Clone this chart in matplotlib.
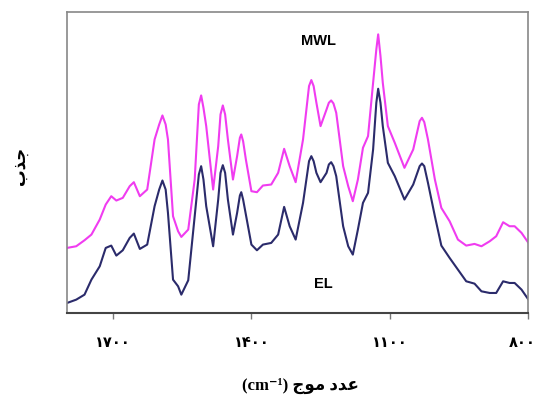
import matplotlib
matplotlib.use("Agg")
import matplotlib.pyplot as plt
import matplotlib.transforms as mtransforms

# wavenumber (cm-1)
wavenumber = [1800, 1780, 1762, 1747, 1729, 1716, 1704, 1693, 1679, 1664,
              1655, 1642, 1626, 1610, 1600, 1593, 1586, 1581, 1570, 1559,
              1552, 1537, 1523, 1514, 1509, 1504, 1498, 1483, 1472, 1467,
              1462, 1457, 1451, 1440, 1431, 1425, 1422, 1418, 1412, 1400,
              1388, 1375, 1357, 1342, 1329, 1317, 1304, 1288, 1275, 1270,
              1265, 1259, 1250, 1237, 1232, 1227, 1222, 1216, 1201, 1190,
              1180, 1169, 1158, 1147, 1136, 1129, 1125, 1120, 1115, 1104,
              1089, 1068, 1049, 1035, 1030, 1025, 1017, 1002, 988, 970,
              952, 934, 916, 901, 883, 869, 854, 840, 829, 814, 800]

# absorbance (arbitrary units)
mwl = [0.195, 0.200, 0.218, 0.235, 0.280, 0.325, 0.350, 0.337, 0.345, 0.380,
       0.392, 0.350, 0.370, 0.520, 0.565, 0.592, 0.565, 0.520, 0.290, 0.245,
       0.228, 0.250, 0.400, 0.625, 0.652, 0.615, 0.560, 0.370, 0.500, 0.595,
       0.622, 0.595, 0.520, 0.400, 0.470, 0.525, 0.535, 0.515, 0.460, 0.365,
       0.362, 0.382, 0.385, 0.420, 0.492, 0.440, 0.392, 0.520, 0.680, 0.698,
       0.680, 0.630, 0.560, 0.610, 0.630, 0.637, 0.628, 0.600, 0.440, 0.380,
       0.335, 0.400, 0.495, 0.530, 0.690, 0.790, 0.835, 0.770, 0.690, 0.560,
       0.510, 0.435, 0.490, 0.575, 0.585, 0.572, 0.520, 0.400, 0.315, 0.275,
       0.220, 0.202, 0.207, 0.200, 0.215, 0.230, 0.272, 0.260, 0.260, 0.240,
       0.212]

el = [0.030, 0.040, 0.055, 0.100, 0.140, 0.195, 0.202, 0.172, 0.188, 0.225,
      0.238, 0.192, 0.205, 0.320, 0.370, 0.397, 0.370, 0.300, 0.100, 0.080,
      0.055, 0.098, 0.290, 0.415, 0.440, 0.400, 0.320, 0.200, 0.340, 0.420,
      0.443, 0.420, 0.340, 0.235, 0.300, 0.352, 0.362, 0.340, 0.295, 0.205,
      0.188, 0.205, 0.210, 0.235, 0.318, 0.260, 0.220, 0.330, 0.455, 0.470,
      0.455, 0.420, 0.392, 0.420, 0.445, 0.452, 0.440, 0.410, 0.260, 0.200,
      0.175, 0.250, 0.330, 0.360, 0.490, 0.630, 0.672, 0.630, 0.560, 0.450,
      0.410, 0.340, 0.385, 0.440, 0.448, 0.440, 0.390, 0.290, 0.202, 0.165,
      0.130, 0.095, 0.088, 0.065, 0.060, 0.060, 0.095, 0.090, 0.090, 0.070,
      0.042]

tick_pos = [1700, 1400, 1100, 800]
tick_lab = ["۱۷۰۰", "۱۴۰۰", "۱۱۰۰", "۸۰۰"]

# arabic text in visual order (presentation forms)
xlab = "(cm⁻¹) " + "\uFE9D\uFEEE\uFEE3 \uFEA9\uFEAA\uFECB"
ylab = "\uFE8F\uFEAC\uFE9F"

fig = plt.figure(figsize=(5.39, 4.0), dpi=100)
ax = fig.add_axes([0.1243, 0.2175, 0.8553, 0.7525])

ax.plot(wavenumber, mwl, color="#f03cf0", lw=1.5, solid_joinstyle="round")
ax.plot(wavenumber, el, color="#2b2b6b", lw=1.5, solid_joinstyle="round")

ax.set_xlim(1800, 800)
ax.set_ylim(0, 0.902)
ax.set_yticks([])
ax.set_xticks(tick_pos)
ax.set_xticklabels(tick_lab, fontsize=10.5, fontweight="bold",
                   family=["DejaVu Sans"])
ax.tick_params(axis="x", length=4, width=1, color="#777777", pad=12)

# last label sits against the right edge, keep it inside the picture
last = ax.get_xticklabels()[-1]
last.set_ha("right")
last.set_transform(last.get_transform() +
                   mtransforms.ScaledTranslation(0.08, 0, fig.dpi_scale_trans))

for s in ax.spines.values():
    s.set_color("#888888")
    s.set_linewidth(1.2)
ax.spines["bottom"].set_color("#444444")
ax.spines["bottom"].set_linewidth(1.5)

ax.text(1255, 0.815, "MWL", fontsize=10.5, fontweight="bold",
        family=["Liberation Sans"], ha="center", va="center")
ax.text(1243, 0.086, "EL", fontsize=10.5, fontweight="bold",
        family=["Liberation Sans"], ha="center", va="center")

fig.text(0.557, 0.035, xlab, fontsize=12, fontweight="bold",
         family=["Liberation Serif", "DejaVu Sans"], ha="center", va="center")
fig.text(0.037, 0.585, ylab, fontsize=12, fontweight="bold", rotation=90,
         family=["DejaVu Sans"], ha="center", va="center")

fig.savefig("out.png", dpi=100)
